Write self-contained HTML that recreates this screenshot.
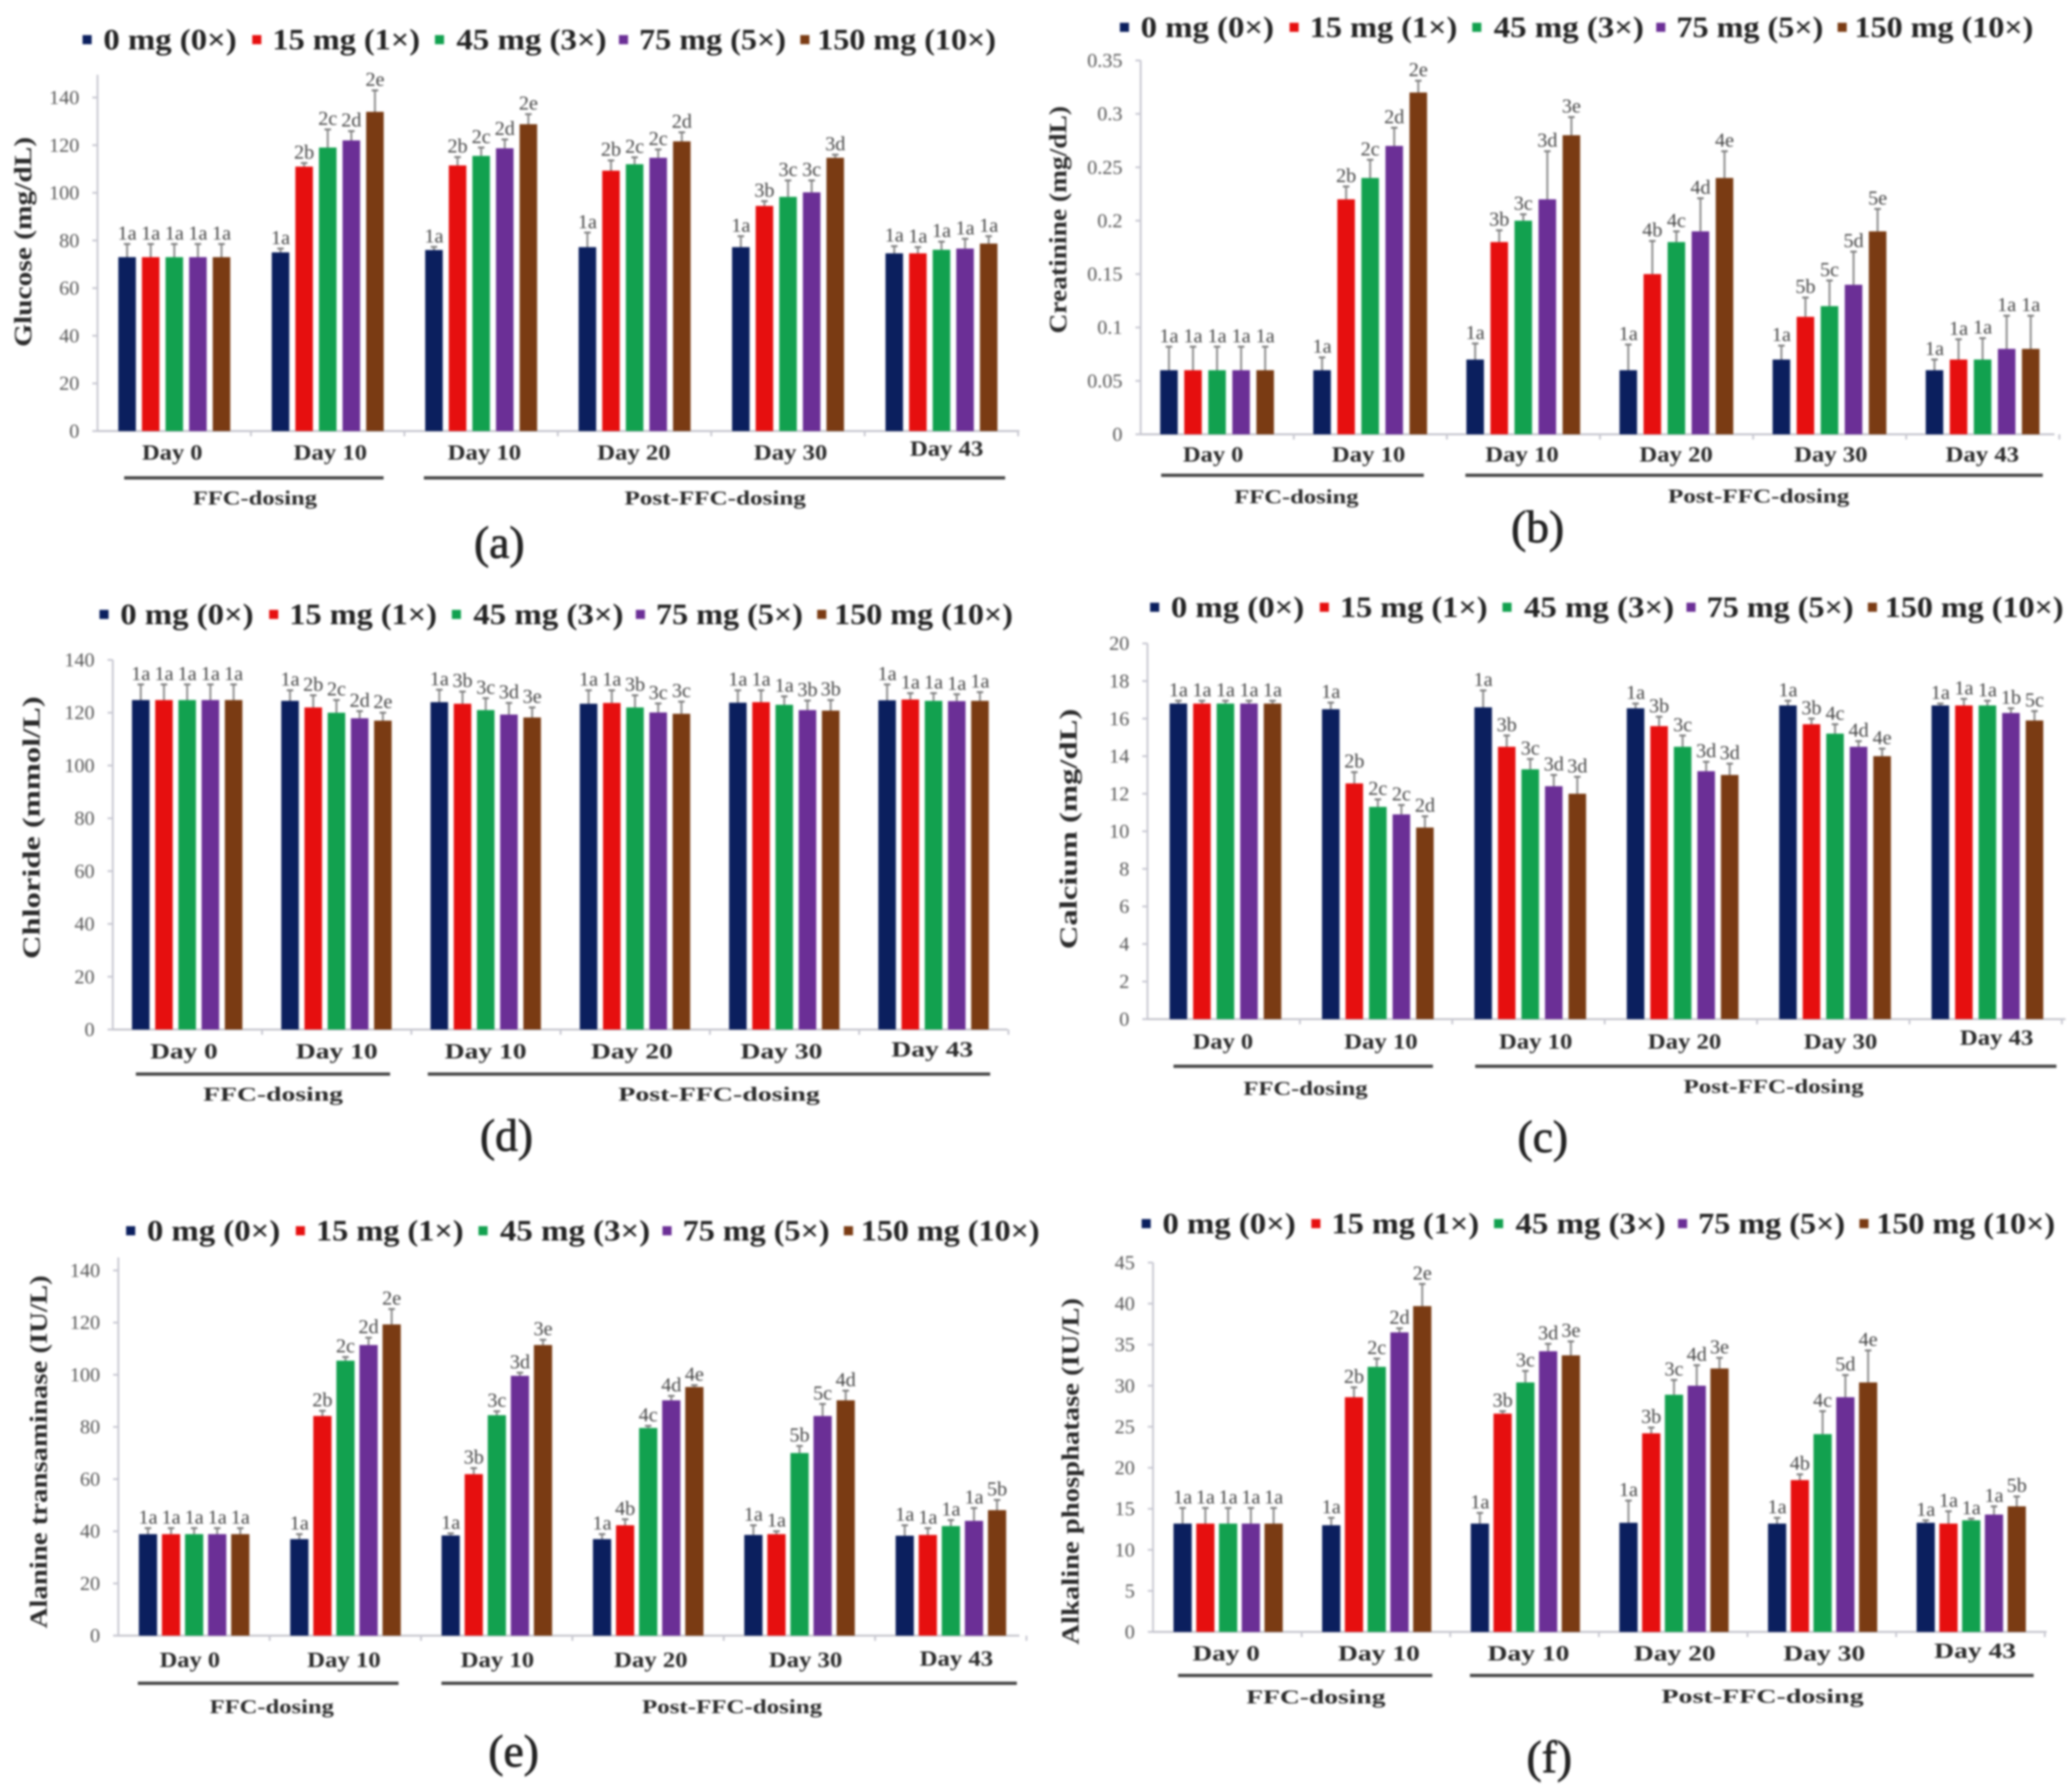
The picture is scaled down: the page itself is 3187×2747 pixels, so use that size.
<!DOCTYPE html>
<html lang="en">
<head>
<meta charset="utf-8">
<title>Serum biochemistry after FFC dosing</title>
<style>
  html, body { margin: 0; padding: 0; background: #fff; }
  svg { display: block; filter: blur(1.5px); }
  text { font-family: "Liberation Serif", serif; }
  .axis-title { font-size: 38px; font-weight: bold; fill: #2a2a2a; text-anchor: middle; }
  .caption { font-size: 70px; fill: #222; stroke: #222; stroke-width: 1.2px; text-anchor: middle; }
  .period { font-size: 31px; font-weight: bold; fill: #2a2a2a; text-anchor: middle; }
  .day { font-size: 34px; font-weight: bold; fill: #2a2a2a; text-anchor: middle; }
  .tick { font-size: 31px; fill: #555; text-anchor: end; }
  .letter { font-size: 31px; fill: #444; text-anchor: middle; }
  .legend { font-size: 46px; font-weight: bold; fill: #222; }
</style>
</head>
<body>
<svg id="figure" width="3187" height="2747" viewBox="0 0 3187 2747" xmlns="http://www.w3.org/2000/svg">
  <rect width="3187" height="2747" fill="#fff"/>

  <g id="panel-a">
    <text class="axis-title" transform="translate(48,372) rotate(-90)" textLength="323" lengthAdjust="spacingAndGlyphs">Glucose (mg/dL)</text>
    <line x1="191" x2="590" y1="735" y2="735" stroke="#444" stroke-width="5"/>
    <line x1="652" x2="1546" y1="735" y2="735" stroke="#444" stroke-width="5"/>
    <text class="period" x="392" y="776" textLength="191" lengthAdjust="spacingAndGlyphs">FFC-dosing</text>
    <text class="period" x="1100" y="776" textLength="279" lengthAdjust="spacingAndGlyphs">Post-FFC-dosing</text>
    <text class="caption" x="768" y="858">(a)</text>
  </g>

  <g id="panel-b">
    <text class="axis-title" transform="translate(1640,338) rotate(-90)" textLength="350" lengthAdjust="spacingAndGlyphs">Creatinine (mg/dL)</text>
    <line x1="1786" x2="2190" y1="731" y2="731" stroke="#444" stroke-width="5"/>
    <line x1="2254" x2="3142" y1="731" y2="731" stroke="#444" stroke-width="5"/>
    <text class="period" x="1994" y="774" textLength="191" lengthAdjust="spacingAndGlyphs">FFC-dosing</text>
    <text class="period" x="2705" y="773" textLength="279" lengthAdjust="spacingAndGlyphs">Post-FFC-dosing</text>
    <text class="caption" x="2365" y="834">(b)</text>
  </g>

  <g id="panel-d">
    <text class="axis-title" transform="translate(61,1273) rotate(-90)" textLength="404" lengthAdjust="spacingAndGlyphs">Chloride (mmol/L)</text>
    <line x1="209" x2="600" y1="1652" y2="1652" stroke="#444" stroke-width="5"/>
    <line x1="658" x2="1523" y1="1652" y2="1652" stroke="#444" stroke-width="5"/>
    <text class="period" x="420" y="1693" textLength="215" lengthAdjust="spacingAndGlyphs">FFC-dosing</text>
    <text class="period" x="1106" y="1693" textLength="310" lengthAdjust="spacingAndGlyphs">Post-FFC-dosing</text>
    <text class="caption" x="779" y="1770">(d)</text>
  </g>

  <g id="panel-c">
    <text class="axis-title" transform="translate(1656,1275) rotate(-90)" textLength="370" lengthAdjust="spacingAndGlyphs">Calcium (mg/dL)</text>
    <line x1="1805" x2="2204" y1="1640" y2="1640" stroke="#444" stroke-width="5"/>
    <line x1="2269" x2="3163" y1="1640" y2="1640" stroke="#444" stroke-width="5"/>
    <text class="period" x="2008" y="1684" textLength="191" lengthAdjust="spacingAndGlyphs">FFC-dosing</text>
    <text class="period" x="2728" y="1681" textLength="277" lengthAdjust="spacingAndGlyphs">Post-FFC-dosing</text>
    <text class="caption" x="2373" y="1772">(c)</text>
  </g>

  <g id="panel-e">
    <text class="axis-title" transform="translate(72,2233) rotate(-90)" textLength="543" lengthAdjust="spacingAndGlyphs">Alanine transaminase (IU/L)</text>
    <line x1="212" x2="613" y1="2589" y2="2589" stroke="#444" stroke-width="5"/>
    <line x1="679" x2="1564" y1="2589" y2="2589" stroke="#444" stroke-width="5"/>
    <text class="period" x="418" y="2635" textLength="191" lengthAdjust="spacingAndGlyphs">FFC-dosing</text>
    <text class="period" x="1126" y="2635" textLength="277" lengthAdjust="spacingAndGlyphs">Post-FFC-dosing</text>
    <text class="caption" x="790" y="2717">(e)</text>
  </g>

  <g id="panel-f">
    <text class="axis-title" transform="translate(1659,2263) rotate(-90)" textLength="533" lengthAdjust="spacingAndGlyphs">Alkaline phosphatase (IU/L)</text>
    <line x1="1812" x2="2203" y1="2577" y2="2577" stroke="#444" stroke-width="5"/>
    <line x1="2261" x2="3128" y1="2577" y2="2577" stroke="#444" stroke-width="5"/>
    <text class="period" x="2024" y="2620" textLength="214" lengthAdjust="spacingAndGlyphs">FFC-dosing</text>
    <text class="period" x="2711" y="2619" textLength="311" lengthAdjust="spacingAndGlyphs">Post-FFC-dosing</text>
    <text class="caption" x="2383" y="2726">(f)</text>
  </g>
</svg>

<script>
/* ---------- shared categories ---------- */
const doseNames = ['0 mg (0×)', '15 mg (1×)', '45 mg (3×)', '75 mg (5×)', '150 mg (10×)'];
const dayNames = ['Day 0', 'Day 10', 'Day 10', 'Day 20', 'Day 30', 'Day 43'];

/* ---------- glucose (a) ---------- */
const glucoseTicks = ['0', '20', '40', '60', '80', '100', '120', '140'];
const glucoseMeans = [
  [73, 73, 73, 73, 73],
  [75, 111, 119, 122, 134],
  [76, 111.5, 115.5, 118.7, 128.8],
  [77.2, 109.3, 112, 114.7, 121.6],
  [77.2, 94.5, 98.3, 100.2, 114.7],
  [74.6, 74.6, 76.1, 76.6, 78.7]
];
const glucoseUppers = [
  [78.5, 78.5, 78.5, 78.5, 78.5],
  [76.6, 112.5, 126.6, 125.9, 143],
  [77.3, 115, 119, 122.4, 133],
  [83.3, 113.6, 114.9, 118.2, 125.4],
  [81.8, 96.5, 105.2, 105.2, 116],
  [77.6, 77.2, 79.5, 80.7, 81.8]
];
const glucoseLetters = [
  ['1a', '1a', '1a', '1a', '1a'],
  ['1a', '2b', '2c', '2d', '2e'],
  ['1a', '2b', '2c', '2d', '2e'],
  ['1a', '2b', '2c', '2c', '2d'],
  ['1a', '3b', '3c', '3c', '3d'],
  ['1a', '1a', '1a', '1a', '1a']
];

/* ---------- creatinine (b) ---------- */
const creatinineTicks = ['0', '0.05', '0.1', '0.15', '0.2', '0.25', '0.3', '0.35'];
const creatinineMeans = [
  [0.06, 0.06, 0.06, 0.06, 0.06],
  [0.06, 0.22, 0.24, 0.27, 0.32],
  [0.07, 0.18, 0.20, 0.22, 0.28],
  [0.06, 0.15, 0.18, 0.19, 0.24],
  [0.07, 0.11, 0.12, 0.14, 0.19],
  [0.06, 0.07, 0.07, 0.08, 0.08]
];
const creatinineUppers = [
  [0.082, 0.082, 0.082, 0.082, 0.082],
  [0.072, 0.232, 0.257, 0.287, 0.331],
  [0.085, 0.191, 0.206, 0.265, 0.297],
  [0.084, 0.181, 0.19, 0.221, 0.265],
  [0.083, 0.128, 0.144, 0.171, 0.211],
  [0.07, 0.089, 0.09, 0.111, 0.111]
];
const creatinineLetters = [
  ['1a', '1a', '1a', '1a', '1a'],
  ['1a', '2b', '2c', '2d', '2e'],
  ['1a', '3b', '3c', '3d', '3e'],
  ['1a', '4b', '4c', '4d', '4e'],
  ['1a', '5b', '5c', '5d', '5e'],
  ['1a', '1a', '1a', '1a', '1a']
];

/* ---------- chloride (d) ---------- */
const chlorideTicks = ['0', '20', '40', '60', '80', '100', '120', '140'];
const chlorideMeans = [
  [124.8, 124.8, 124.8, 124.8, 124.8],
  [124.5, 122, 120, 117.9, 117],
  [124, 123.4, 121, 119.3, 118.2],
  [123.4, 123.7, 122, 120.1, 119.6],
  [123.8, 124, 123, 121, 120.8],
  [124.7, 125, 124.5, 124.4, 124.5]
];
const chlorideUppers = [
  [130.7, 130.7, 130.7, 130.7, 130.7],
  [128.5, 126.6, 124.8, 120.6, 120],
  [128.7, 128, 125.5, 123.7, 122],
  [128.5, 128.5, 126.6, 123.5, 124.2],
  [128.5, 128.5, 126.2, 124.6, 124.8],
  [130.7, 127.4, 127.4, 127, 127.8]
];
const chlorideLetters = [
  ['1a', '1a', '1a', '1a', '1a'],
  ['1a', '2b', '2c', '2d', '2e'],
  ['1a', '3b', '3c', '3d', '3e'],
  ['1a', '1a', '3b', '3c', '3c'],
  ['1a', '1a', '1a', '3b', '3b'],
  ['1a', '1a', '1a', '1a', '1a']
];

/* ---------- calcium (c) ---------- */
const calciumTicks = ['0', '2', '4', '6', '8', '10', '12', '14', '16', '18', '20'];
const calciumMeans = [
  [16.8, 16.8, 16.8, 16.8, 16.8],
  [16.5, 12.55, 11.3, 10.9, 10.2],
  [16.6, 14.5, 13.3, 12.4, 12],
  [16.55, 15.6, 14.5, 13.2, 13],
  [16.7, 15.7, 15.2, 14.5, 14],
  [16.7, 16.7, 16.7, 16.3, 15.9]
];
const calciumUppers = [
  [16.95, 16.95, 16.95, 16.95, 16.95],
  [16.85, 13.15, 11.7, 11.4, 10.8],
  [17.5, 15.1, 13.85, 13, 12.9],
  [16.8, 16.1, 15.1, 13.7, 13.6],
  [16.95, 16, 15.7, 14.8, 14.4],
  [16.8, 17.05, 16.95, 16.55, 16.4]
];
const calciumLetters = [
  ['1a', '1a', '1a', '1a', '1a'],
  ['1a', '2b', '2c', '2c', '2d'],
  ['1a', '3b', '3c', '3d', '3d'],
  ['1a', '3b', '3c', '3d', '3d'],
  ['1a', '3b', '4c', '4d', '4e'],
  ['1a', '1a', '1a', '1b', '5c']
];

/* ---------- alanine transaminase (e) ---------- */
const altTicks = ['0', '20', '40', '60', '80', '100', '120', '140'];
const altMeans = [
  [38.9, 38.9, 38.9, 38.9, 38.9],
  [37, 84.2, 105.4, 111.4, 119.3],
  [38.4, 61.9, 84.5, 99.6, 111.4],
  [37, 42.3, 79.6, 90.2, 95.3],
  [38.6, 38.9, 70, 84.2, 90.2],
  [38.3, 38.6, 42, 44, 48.1]
];
const altUppers = [
  [41.2, 41.2, 41.2, 41.2, 41.2],
  [38.9, 86.2, 106.8, 114.2, 125.2],
  [39.2, 64.2, 86, 100.8, 113.4],
  [38.9, 44.6, 80.4, 91.9, 96],
  [42.3, 40, 72.7, 88.8, 93.9],
  [42.3, 41.2, 44.3, 48.9, 52]
];
const altLetters = [
  ['1a', '1a', '1a', '1a', '1a'],
  ['1a', '2b', '2c', '2d', '2e'],
  ['1a', '3b', '3c', '3d', '3e'],
  ['1a', '4b', '4c', '4d', '4e'],
  ['1a', '1a', '5b', '5c', '4d'],
  ['1a', '1a', '1a', '1a', '5b']
];

/* ---------- alkaline phosphatase (f) ---------- */
const alpTicks = ['0', '5', '10', '15', '20', '25', '30', '35', '40', '45'];
const alpMeans = [
  [13.2, 13.2, 13.2, 13.2, 13.2],
  [13, 28.6, 32.3, 36.5, 39.7],
  [13.2, 26.6, 30.4, 34.2, 33.7],
  [13.3, 24.2, 28.9, 30, 32.1],
  [13.2, 18.5, 24.1, 28.6, 30.4],
  [13.3, 13.2, 13.6, 14.3, 15.3]
];
const alpUppers = [
  [15.1, 15.1, 15.1, 15.1, 15.1],
  [13.9, 29.8, 33.3, 37, 42.4],
  [14.5, 26.9, 31.8, 35.1, 35.4],
  [16, 24.9, 30.7, 32.5, 33.4],
  [13.9, 19.2, 26.9, 31.3, 34.3],
  [13.6, 14.7, 13.8, 15.3, 16.5]
];
const alpLetters = [
  ['1a', '1a', '1a', '1a', '1a'],
  ['1a', '2b', '2c', '2d', '2e'],
  ['1a', '3b', '3c', '3d', '3e'],
  ['1a', '3b', '3c', '4d', '3e'],
  ['1a', '4b', '4c', '5d', '4e'],
  ['1a', '1a', '1a', '1a', '5b']
];

/* ---------- styling ---------- */
const doseColors = ['#0b1f5e', '#e60f0f', '#12a14f', '#6b2f96', '#7a3b13'];
const legendTextOffsets = [0, 260, 543, 824, 1098];
const legendTextWidths = [205, 227, 231, 226, 275];
const legendMarkGaps = [25, 24, 26, 24, 19];

const SVG_NS = 'http://www.w3.org/2000/svg';
function make(parent, tag, props, content) {
  const node = document.createElementNS(SVG_NS, tag);
  for (const key in props) node.setAttribute(key, props[key]);
  if (content !== undefined) node.textContent = content;
  parent.appendChild(node);
  return node;
}

function drawPanel(panelId, ticks, means, uppers, letters, box) {
  const panel = document.getElementById(panelId);
  const tickMax = parseFloat(ticks[ticks.length - 1]);
  const yScale = function (v) { return box.y0 - (v / tickMax) * (box.y0 - box.yTop); };
  const barLeft = function (g, s) { return box.barX + g * box.groupPitch + s * box.barPitch; };

  /* axes */
  const yAxis = make(panel, 'line', { x1: box.axisX, x2: box.axisX, y1: box.axisTop, y2: box.y0, stroke: '#c9c9d2', 'stroke-width': 3 });
  
  
  const xAxis = make(panel, 'line', { x1: box.axisX - 8, x2: box.xEnd, y1: box.y0, y2: box.y0, stroke: '#c4c4cc', 'stroke-width': 3 });
  
  

  /* y ticks */
  ticks.forEach(function (label) {
    const y = yScale(parseFloat(label));
    const mark = make(panel, 'line', { x1: box.axisX - 8, x2: box.axisX, y1: y, y2: y, stroke: '#c9c9d2', 'stroke-width': 3 });
    
    
    const text = make(panel, 'text', { class: 'tick', x: box.axisX - 28, y: y + 10 }, label);
    
    
  });

  /* x ticks and day labels */
  dayNames.forEach(function (day, g) {
    const tx = box.axisX + (g + 1) * box.groupPitch;
    const mark = make(panel, 'line', { x1: tx, x2: tx, y1: box.y0, y2: box.y0 + 8, stroke: '#c9c9d2', 'stroke-width': 3 });
    
    
    const dayY = box.dayY + (g === 5 ? box.lastDayShift : 0) + 11;
    const dayWidth = (day.length === 5 ? 93 : 113) * box.dayScale;
    const text = make(panel, 'text', { class: 'day', x: box.dayCenters[g], y: dayY, textLength: dayWidth, lengthAdjust: 'spacingAndGlyphs' }, day);
    
    
  });

  /* bars, error bars and significance letters */
  means.forEach(function (groupValues, g) {
    groupValues.forEach(function (value, s) {
      const left = barLeft(g, s);
      const mid = left + box.barW / 2;
      const top = yScale(value);
      const upper = yScale(uppers[g][s]);

      const stem = make(panel, 'line', { x1: mid, x2: mid, y1: top, y2: upper, stroke: '#8c8c8c', 'stroke-width': 3 });
      
      
      const cap = make(panel, 'line', { x1: mid - 5, x2: mid + 5, y1: upper, y2: upper, stroke: '#7c7c7c', 'stroke-width': 3 });
      
      

      const bar = make(panel, 'rect', { x: left, y: top, width: box.barW, height: box.y0 - top, fill: doseColors[s] });
      
      

      const letter = make(panel, 'text', { class: 'letter', x: mid, y: upper - 7 }, letters[g][s]);
      
      
    });
  });

  /* legend */
  doseNames.forEach(function (name, s) {
    const textX = box.legendX + legendTextOffsets[s];
    const swatch = make(panel, 'rect', { x: textX - legendMarkGaps[s] - 7, y: box.legendY - 7, width: 14, height: 14, fill: doseColors[s] });
    
    
    const text = make(panel, 'text', { class: 'legend', x: textX, y: box.legendY + 15, textLength: legendTextWidths[s], lengthAdjust: 'spacingAndGlyphs' }, name);
    
    
  });
}

drawPanel('panel-a', glucoseTicks, glucoseMeans, glucoseUppers, glucoseLetters, {
  axisX: 150, y0: 663, yTop: 150, axisTop: 115, xEnd: 1568,
  barX: 182, barW: 27, barPitch: 36.3, groupPitch: 236,
  dayCenters: [265, 508, 745, 975, 1216, 1456], dayY: 696, lastDayShift: -6, dayScale: 1,
  legendX: 159, legendY: 61
});
drawPanel('panel-b', creatinineTicks, creatinineMeans, creatinineUppers, creatinineLetters, {
  axisX: 1754.5, y0: 668, yTop: 93, axisTop: 93, xEnd: 3160,
  barX: 1784.5, barW: 27, barPitch: 37, groupPitch: 235.5,
  dayCenters: [1866, 2105, 2341, 2578, 2816, 3049], dayY: 699, lastDayShift: 0, dayScale: 1,
  legendX: 1754.5, legendY: 42
});
drawPanel('panel-d', chlorideTicks, chlorideMeans, chlorideUppers, chlorideLetters, {
  axisX: 173.5, y0: 1583.5, yTop: 1015, axisTop: 1015, xEnd: 1550,
  barX: 203, barW: 27, barPitch: 35.7, groupPitch: 229.6,
  dayCenters: [283, 518, 747, 972, 1202, 1434], dayY: 1617, lastDayShift: -3, dayScale: 1.115,
  legendX: 185, legendY: 945
});
drawPanel('panel-c', calciumTicks, calciumMeans, calciumUppers, calciumLetters, {
  axisX: 1765, y0: 1567.5, yTop: 989.7, axisTop: 989.7, xEnd: 3177,
  barX: 1799, barW: 27, barPitch: 36.2, groupPitch: 234.4,
  dayCenters: [1881, 2124, 2362, 2591, 2831, 3071], dayY: 1602, lastDayShift: -6, dayScale: 1,
  legendX: 1801, legendY: 934
});
drawPanel('panel-e', altTicks, altMeans, altUppers, altLetters, {
  axisX: 182, y0: 2515.7, yTop: 1954, axisTop: 1934, xEnd: 1568,
  barX: 213.6, barW: 28, barPitch: 35.5, groupPitch: 232.8,
  dayCenters: [292, 529, 765, 1001, 1239, 1471], dayY: 2553, lastDayShift: -2, dayScale: 1,
  legendX: 226, legendY: 1893
});
drawPanel('panel-f', alpTicks, alpMeans, alpUppers, alpLetters, {
  axisX: 1773.5, y0: 2510, yTop: 1942, axisTop: 1942, xEnd: 3148,
  barX: 1805, barW: 28, barPitch: 35, groupPitch: 228.6,
  dayCenters: [1886, 2121, 2351, 2576, 2806, 3038], dayY: 2543, lastDayShift: -4, dayScale: 1.115,
  legendX: 1788, legendY: 1882
});
</script>
</body>
</html>
